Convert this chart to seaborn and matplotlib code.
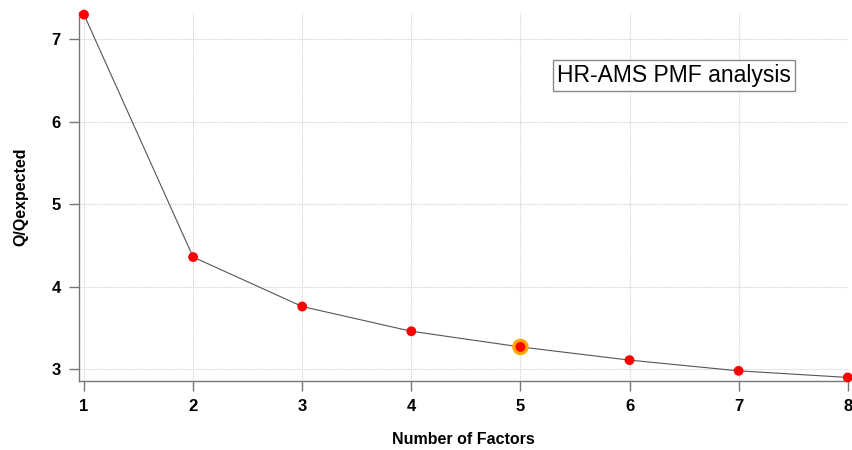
import matplotlib
matplotlib.use("Agg")
import matplotlib.pyplot as plt
import seaborn as sns
import pandas as pd

factors = [1, 2, 3, 4, 5, 6, 7, 8]
q_ratio = [7.30, 4.36, 3.76, 3.46, 3.27, 3.11, 2.98, 2.90]
selected = 5
x_ticks = [1, 2, 3, 4, 5, 6, 7, 8]
y_ticks = [3, 4, 5, 6, 7]

sns.set_theme(style="white")
plt.rcParams['font.family'] = ['Liberation Sans', 'DejaVu Sans']
plt.rcParams['text.color'] = 'black'
plt.rcParams['axes.labelcolor'] = 'black'
plt.rcParams['xtick.labelcolor'] = 'black'
plt.rcParams['ytick.labelcolor'] = 'black'

df = pd.DataFrame({"factors": factors, "q": q_ratio})

fig = plt.figure(figsize=(8.52, 4.5), dpi=100)
ax = fig.add_axes([0.0927, 0.153, 0.9023, 0.82])

sns.lineplot(data=df, x="factors", y="q", ax=ax, color="#555555", linewidth=0.8, zorder=2)
sel = df[df["factors"] == selected]
sns.scatterplot(data=sel, x="factors", y="q", ax=ax, color="#ffa500", s=140, edgecolor="none", zorder=3)
sns.scatterplot(data=df, x="factors", y="q", ax=ax, color="#ff0000", s=50, edgecolor="none", zorder=4)
for coll in ax.collections:
    coll.set_clip_on(False)

ax.set_xlim(0.954, 8.0)
ax.set_ylim(2.855, 7.33)
ax.set_xticks(x_ticks)
ax.set_yticks(y_ticks)
ax.grid(True, color="#d0d0d0", linestyle=(0, (1, 1)), linewidth=0.8)
for s in ["top", "right"]:
    ax.spines[s].set_visible(False)
for s in ["left", "bottom"]:
    ax.spines[s].set_color("#777777")
    ax.spines[s].set_linewidth(1.0)
ax.tick_params(axis="both", direction="out", length=7, width=1, color="#777777",
               labelsize=12, pad=6, bottom=True, left=True)
for lab in ax.get_xticklabels() + ax.get_yticklabels():
    lab.set_fontweight("bold")

ax.set_xlabel("Number of Factors", fontsize=11.5, fontweight="bold", labelpad=13)
ax.set_ylabel("Q/Qexpected", fontsize=11.5, fontweight="bold", labelpad=17)

ax.text(0.774, 0.829, "HR-AMS PMF analysis", transform=ax.transAxes, fontsize=16.5,
        ha="center", va="center", color="black",
        bbox=dict(boxstyle="square,pad=0.18", facecolor="white", edgecolor="#888888", linewidth=1))

fig.savefig("out.png", dpi=100)
